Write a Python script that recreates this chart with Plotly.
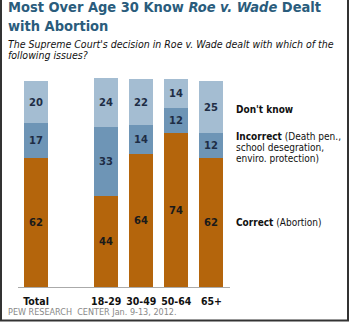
import plotly.graph_objects as go

categories = ["Total", "18-29", "30-49", "50-64", "65+"]
positions = [0, 2, 3, 4, 5]
correct = [62, 44, 64, 74, 62]
incorrect = [17, 33, 14, 12, 12]
dont_know = [20, 24, 22, 14, 25]

W, H = 350, 322
L, R, T, B = 18, 120, 78, 35
pw, ph = W - L - R, H - T - B

def px(x):
    return (x - L) / pw

def py(y):
    return (H - B - y) / ph

fig = go.Figure()
series = [
    ("Correct", correct, "#b4650c", "#1a1a1a"),
    ("Incorrect", incorrect, "#6e95b6", "#1e2d45"),
    ("Don't know", dont_know, "#a4bdd2", "#1e2d45"),
]
for name, vals, col, tcol in series:
    fig.add_trace(go.Bar(
        x=positions, y=vals, name=name, width=0.686,
        marker=dict(color=col, line=dict(width=0)),
        text=[str(v) for v in vals], textposition="inside",
        insidetextanchor="middle", textangle=0, constraintext="none",
        textfont=dict(family="DejaVu Sans", size=10, color=tcol, weight="bold"),
        hoverinfo="skip",
    ))

fig.update_layout(
    barmode="stack", showlegend=False,
    width=W, height=H, margin=dict(l=L, r=R, t=T, b=B),
    paper_bgcolor="white", plot_bgcolor="white",
    bargap=0,
    xaxis=dict(range=[-0.514, 5.53], tickvals=positions, ticktext=categories,
               showgrid=False, zeroline=False, showline=True, linecolor="#aaaaaa",
               linewidth=1, ticks="", fixedrange=True, ticklabelstandoff=4,
               tickfont=dict(family="DejaVu Sans Condensed", size=10.5, color="#111111", weight="bold")),
    yaxis=dict(range=[0, 100.5], visible=False, fixedrange=True),
)

TF = dict(family="DejaVu Sans Condensed", size=14.5, color="#2a5c7c")
SF = dict(family="DejaVu Sans Condensed", size=10.5, color="#111111")
LF = dict(family="DejaVu Sans Condensed", size=10, color="#111111")

def txt(s, x, y, font, yref="paper"):
    return dict(text=s, x=x, y=y, xref="paper", yref=yref, xanchor="left",
                yanchor="middle", align="left", showarrow=False, font=font)

ann = [
    txt("<b>Most Over Age 30 Know <i>Roe v. Wade</i> Dealt<br>with Abortion</b>", px(6), py(16.5),
        dict(TF)),
    txt("<i>The Supreme Court's decision in Roe v. Wade dealt with which of the</i>", px(6), py(44), SF),
    txt("<i>following issues?</i>", px(6), py(55), SF),
    txt("PEW RESEARCH  CENTER Jan. 9-13, 2012.", px(6), py(312),
        dict(family="DejaVu Sans Condensed", size=9, color="#888888")),
]
# legend labels aligned with 65+ segments
last = len(categories) - 1
c0, i0, d0 = correct[last], incorrect[last], dont_know[last]
lx = px(234)
ann.append(txt("<b>Don't know</b>", lx, c0 + i0 + d0 / 2 - 1, LF, yref="y"))
ann.append(txt("<b>Incorrect</b> (Death pen.,", lx, py(136), LF))
ann.append(txt("school desegration,", lx, py(147), LF))
ann.append(txt("enviro. protection)", lx, py(158), LF))
ann.append(txt("<b>Correct</b> (Abortion)", lx, c0 / 2, LF, yref="y"))
fig.update_layout(annotations=ann)

# frame
shapes = []
for x0, y0, x1, y1 in [(1, 0, 1, 321), (348, 0, 348, 321), (0, 320.5, 349, 320.5)]:
    shapes.append(dict(type="line", xref="paper", yref="paper",
                       x0=px(x0), x1=px(x1), y0=py(y0), y1=py(y1),
                       line=dict(color="#333333", width=2)))
fig.update_layout(shapes=shapes)

fig.write_html("out.html")
